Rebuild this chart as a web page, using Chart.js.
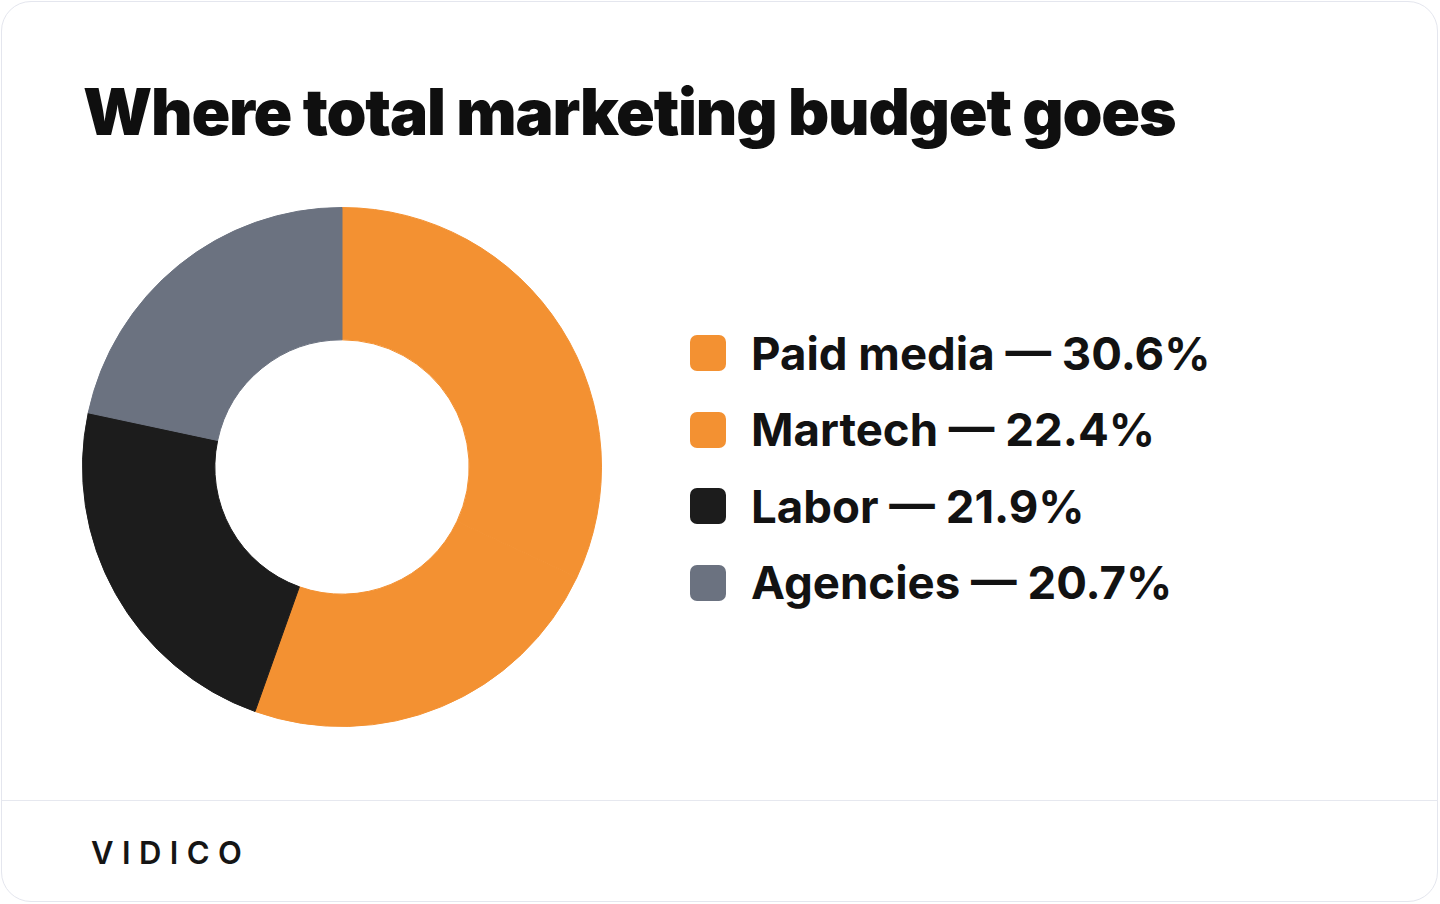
<!DOCTYPE html>
<html>
<head>
<meta charset="utf-8">
<script src="https://cdn.jsdelivr.net/npm/chart.js@4/dist/chart.umd.min.js"></script>
<style>
  html, body { margin: 0; padding: 0; background: #ffffff; }
  body { width: 1440px; height: 904px; position: relative; overflow: hidden; font-family: Inter, "Noto Sans", sans-serif; }
  .card { position: absolute; left: 1px; top: 1px; width: 1437px; height: 901px; border: 1px solid #e4e6ee; border-radius: 30px; background: #fff; box-sizing: border-box; }
  .title { position: absolute; left: 83px; top: 73px; font-size: 64px; font-weight: 900; color: #0f0f0f; letter-spacing: -1.2px; white-space: nowrap; }
  .chartbox { position: absolute; left: 82px; top: 207px; width: 520px; height: 520px; }
  .legend { position: absolute; left: 690px; top: 315px; }
  .item { display: flex; align-items: center; height: 76.5px; }
  .swatch { width: 36px; height: 36px; border-radius: 7px; margin-right: 25px; }
  .label { font-size: 45.6px; font-weight: 650; color: #121212; white-space: nowrap; }
  .sep { position: absolute; left: 2px; right: 2px; top: 800px; height: 1px; background: #e6e8ef; }
  .brand { position: absolute; left: 91px; top: 834px; font-size: 31px; font-weight: 600; letter-spacing: 8.4px; color: #151515; }
</style>
</head>
<body>
<div class="card"></div>
<div class="title">Where total marketing budget goes</div>
<div class="chartbox"><canvas id="c" width="520" height="520"></canvas></div>
<div class="legend" id="legend"></div>
<div class="sep"></div>
<div class="brand">VIDICO</div>
<script>
const categories = ["Paid media", "Martech", "Labor", "Agencies"];
const shares = [30.6, 22.4, 21.9, 20.7];
const colors = ["#f39132", "#f39132", "#1c1c1c", "#6b7280"];

const legend = document.getElementById('legend');
categories.forEach((c, i) => {
  const row = document.createElement('div');
  row.className = 'item';
  const sw = document.createElement('div');
  sw.className = 'swatch';
  sw.style.background = colors[i];
  const lb = document.createElement('div');
  lb.className = 'label';
  lb.textContent = c + ' \u2014 ' + shares[i].toFixed(1) + '%';
  row.appendChild(sw);
  row.appendChild(lb);
  legend.appendChild(row);
});

new Chart(document.getElementById('c'), {
  type: 'doughnut',
  data: {
    labels: categories,
    datasets: [{
      data: shares,
      backgroundColor: colors,
      borderColor: colors,
      borderWidth: 1,
      hoverOffset: 0
    }]
  },
  options: {
    responsive: false,
    animation: false,
    cutout: '49%',
    layout: { padding: 0 },
    plugins: { legend: { display: false }, tooltip: { enabled: false } }
  }
});
</script>
</body>
</html>
